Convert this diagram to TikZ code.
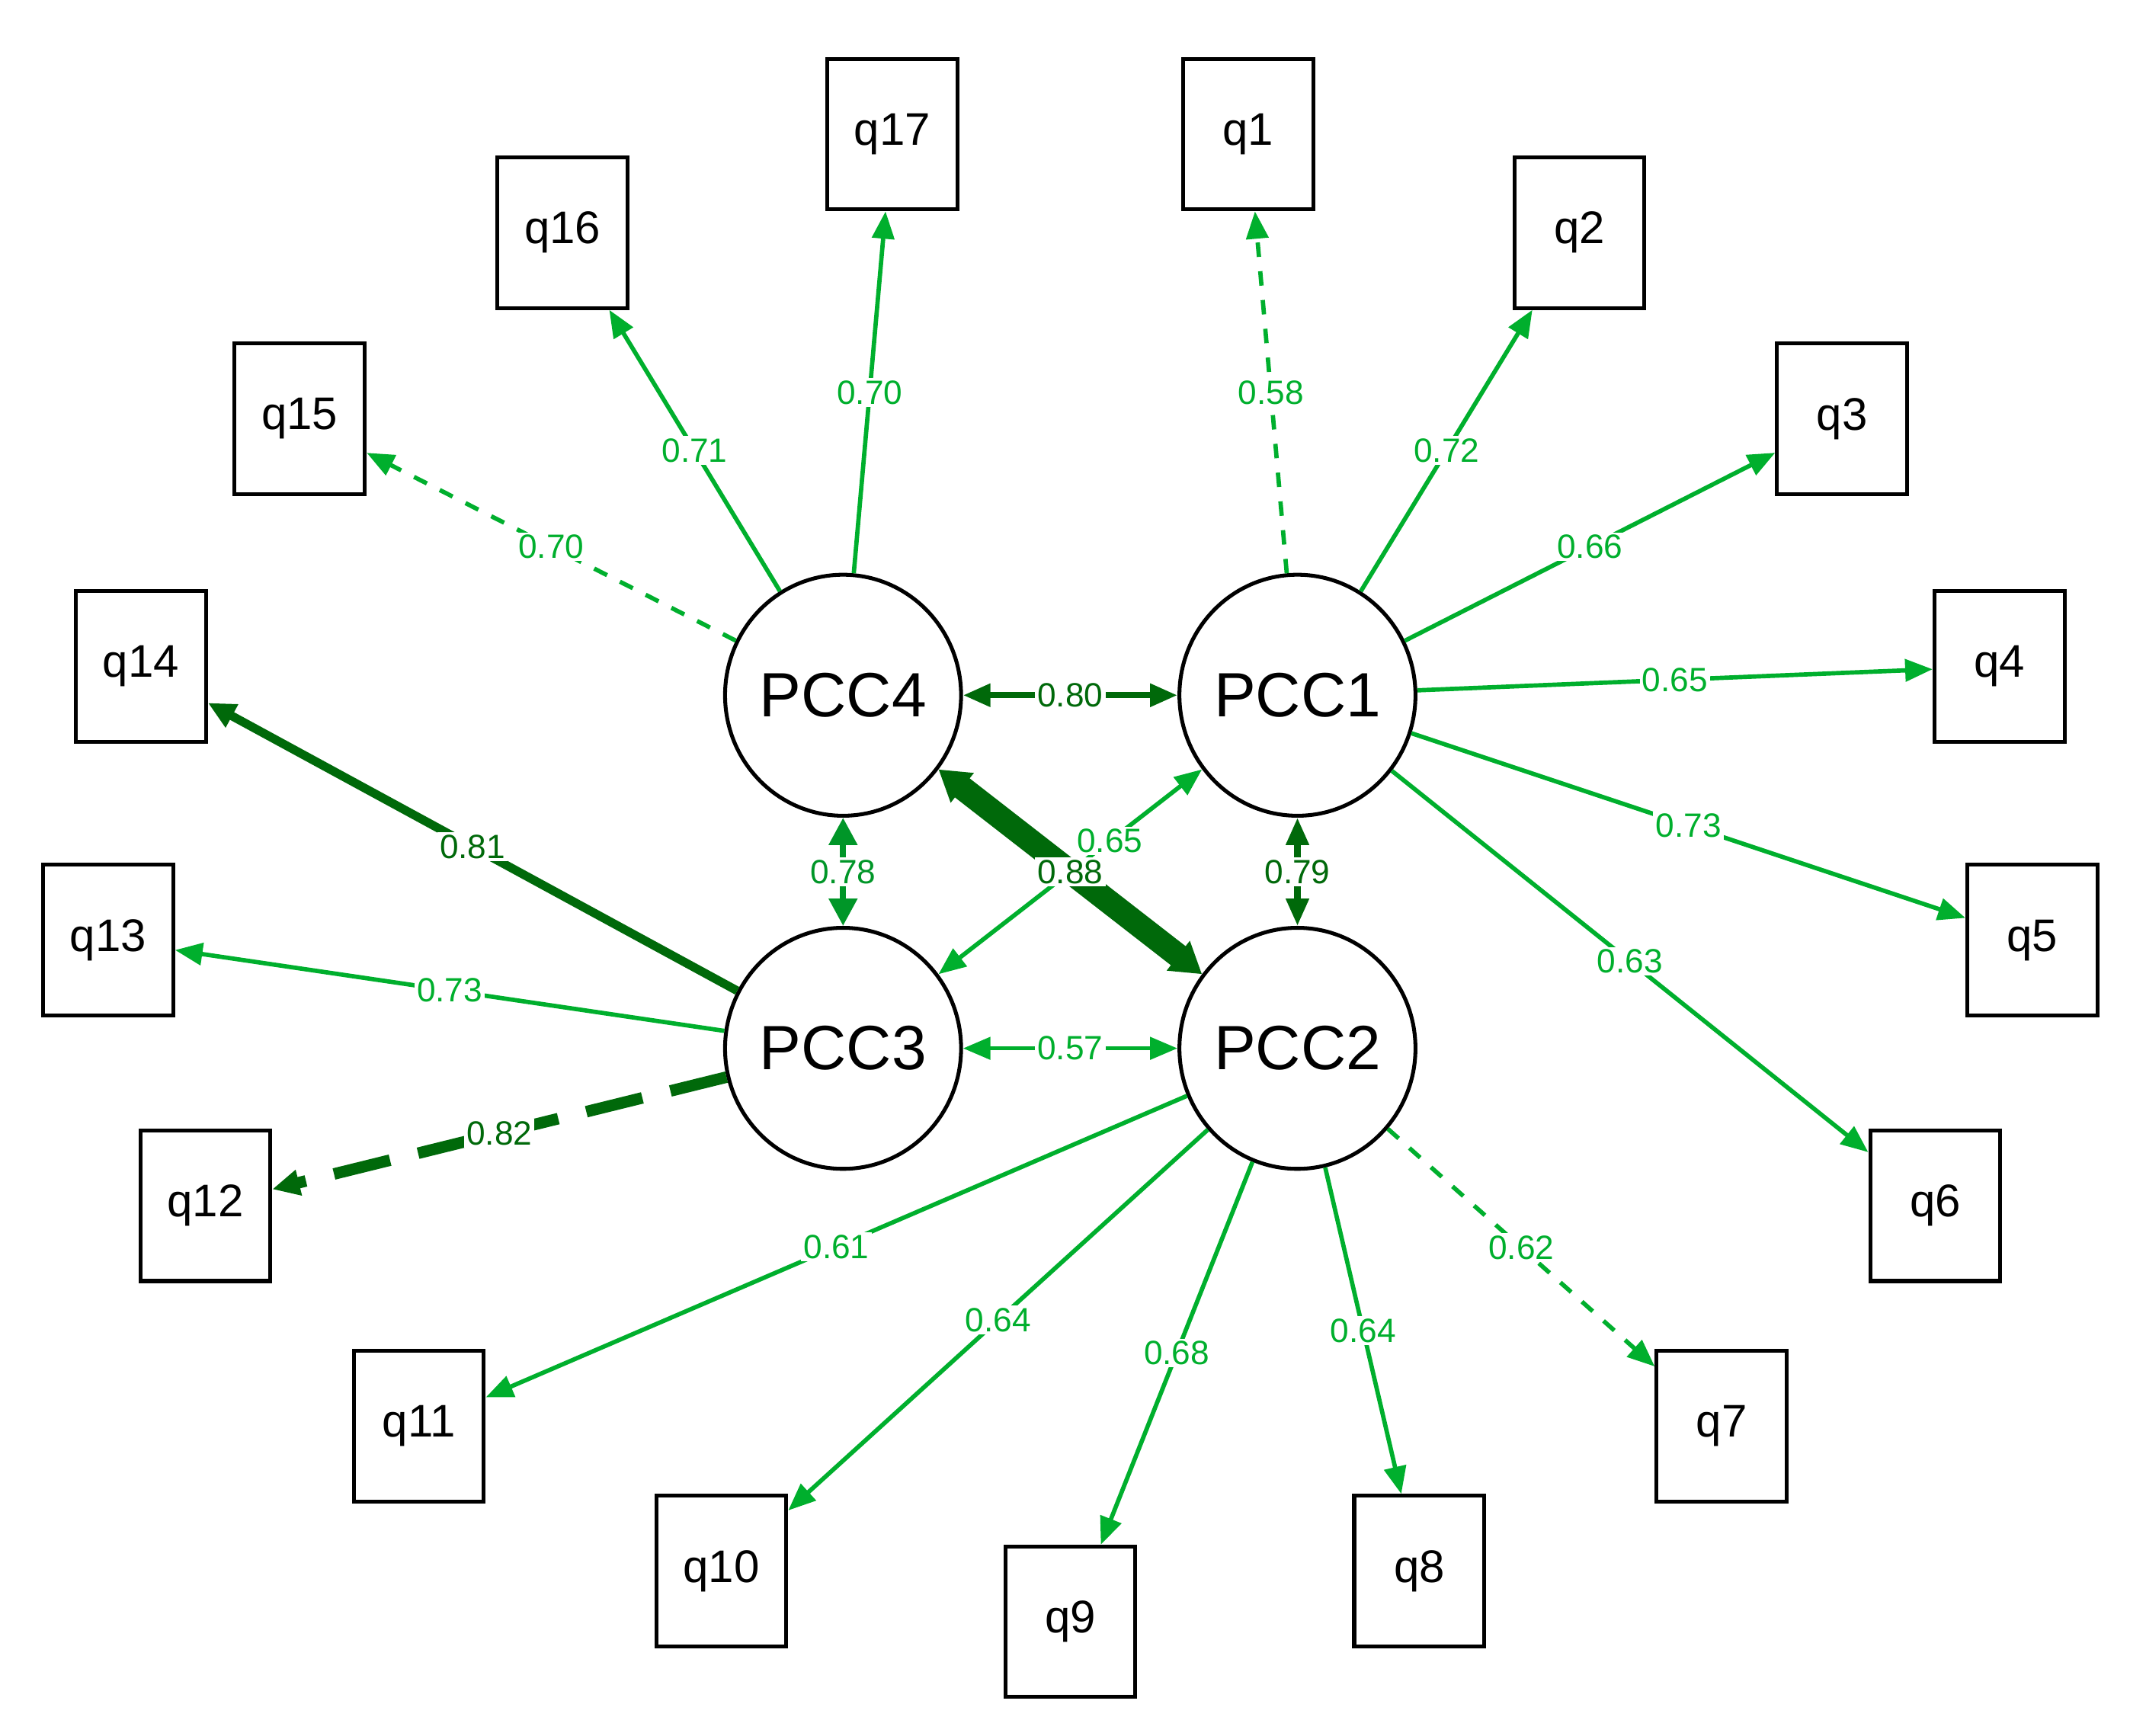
\documentclass[tikz,border=0pt]{standalone}
\usepackage{fontspec}
\setmainfont{Liberation Sans}
\usetikzlibrary{arrows.meta,shapes.geometric}
\definecolor{lg}{RGB}{0,175,45}
\definecolor{dg}{RGB}{0,105,10}
\begin{document}
\begin{tikzpicture}[x=0.01cm,y=-0.01cm,
 box/.style={draw,thick,minimum width=0.95cm,minimum height=1.1cm,font=\fontsize{9.5}{11}\selectfont},
 lat/.style={draw,thick,ellipse,minimum width=1.5cm,minimum height=1.76cm,inner sep=0pt,font=\fontsize{13}{15}\selectfont},
 e/.style={lg,line width=0.9pt,-{Triangle[length=0.2cm,width=0.16cm]}},
 d/.style={dg,line width=1.3pt,{Triangle[length=0.2cm,width=0.16cm]}-{Triangle[length=0.2cm,width=0.16cm]}},
 b/.style={lg,line width=0.9pt,{Triangle[length=0.2cm,width=0.16cm]}-{Triangle[length=0.2cm,width=0.16cm]}},
 lab/.style={midway,fill=white,inner sep=0.5pt,font=\fontsize{7}{8}\selectfont}]
\useasboundingbox (0,0) rectangle (1568,1268);
\node[lat] (P4) at (616,508) {PCC4};
\node[lat] (P1) at (948,508) {PCC1};
\node[lat] (P3) at (616,766) {PCC3};
\node[lat] (P2) at (948,766) {PCC2};
\node[box] (q1) at (912,98) {q1};
\node[box] (q2) at (1154,170) {q2};
\node[box] (q3) at (1346,306) {q3};
\node[box] (q4) at (1461,487) {q4};
\node[box] (q5) at (1485,687) {q5};
\node[box] (q6) at (1414,881) {q6};
\node[box] (q7) at (1258,1042) {q7};
\node[box] (q8) at (1037,1148) {q8};
\node[box] (q9) at (782,1185) {q9};
\node[box] (q10) at (527,1148) {q10};
\node[box] (q11) at (306,1042) {q11};
\node[box] (q12) at (150,881) {q12};
\node[box] (q13) at (79,687) {q13};
\node[box] (q14) at (103,487) {q14};
\node[box] (q15) at (219,306) {q15};
\node[box] (q16) at (411,170) {q16};
\node[box] (q17) at (652,98) {q17};
\draw[e,dashed] (P1) -- (q1) node[lab,text=lg] {0.58};
\draw[e] (P1) -- (q2) node[lab,text=lg] {0.72};
\draw[e] (P1) -- (q3) node[lab,text=lg] {0.66};
\draw[e] (P1) -- (q4) node[lab,text=lg] {0.65};
\draw[e] (P1) -- (q5) node[lab,text=lg] {0.73};
\draw[e] (P1) -- (q6) node[lab,text=lg] {0.63};
\draw[e,dashed] (P2) -- (q7) node[lab,text=lg] {0.62};
\draw[e] (P2) -- (q8) node[lab,text=lg] {0.64};
\draw[e] (P2) -- (q9) node[lab,text=lg] {0.68};
\draw[e] (P2) -- (q10) node[lab,text=lg] {0.64};
\draw[e] (P2) -- (q11) node[lab,text=lg] {0.61};
\draw[dg,line width=2.4pt,dashed,dash pattern=on 12pt off 6pt,-{Triangle[length=0.2cm,width=0.18cm]}] (P3) -- (q12) node[lab,text=dg] {0.82};
\draw[e] (P3) -- (q13) node[lab,text=lg] {0.73};
\draw[dg,line width=1.8pt,-{Triangle[length=0.2cm,width=0.18cm]}] (P3) -- (q14) node[lab,text=dg] {0.81};
\draw[e,dashed] (P4) -- (q15) node[lab,text=lg] {0.70};
\draw[e] (P4) -- (q16) node[lab,text=lg] {0.71};
\draw[e] (P4) -- (q17) node[lab,text=lg] {0.70};
\draw[d] (P4) -- (P1) node[lab,text=dg] {0.80};
\draw[d] (P1) -- (P2) node[lab,text=dg] {0.79};
\draw[{Triangle[length=0.2cm,width=0.2cm]}-{Triangle[length=0.2cm,width=0.2cm]},color={rgb,255:red,0;green,150;blue,40},line width=1.3pt] (P4) -- (P3) node[lab,text={rgb,255:red,0;green,150;blue,40}] {0.78};
\draw[b] (P3) -- (P2) node[lab,text=lg] {0.57};
\draw[b] (P3) -- (P1) node[lab,pos=0.65,text=lg] {0.65};
\draw[dg,line width=5pt,{Triangle[length=0.22cm,width=0.26cm]}-{Triangle[length=0.22cm,width=0.26cm]}] (P4) -- (P2) node[lab,text=dg] {0.88};
\end{tikzpicture}
\end{document}
